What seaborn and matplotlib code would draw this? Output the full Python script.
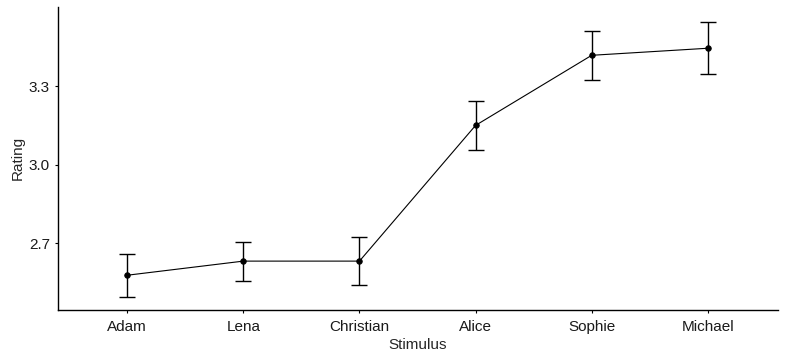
import pandas as pd
import matplotlib.pyplot as plt
import seaborn as sns

# values
stimulus = ["Adam", "Lena", "Christian", "Alice", "Sophie", "Michael"]
rating = [2.577, 2.631, 2.631, 3.150, 3.418, 3.445]
err = [0.083, 0.075, 0.093, 0.094, 0.093, 0.100]
yticks = [2.7, 3.0, 3.3]

df = pd.DataFrame({"Stimulus": stimulus, "Rating": rating, "err": err})

sns.set_style("white")
plt.rcParams["font.family"] = ["Liberation Sans", "DejaVu Sans"]

fig = plt.figure(figsize=(7.86, 3.62), dpi=100)
ax = fig.add_axes([0.0732, 0.1436, 0.916, 0.838])

sns.pointplot(data=df, x="Stimulus", y="Rating", color="black",
              markers="o", markersize=4, linewidth=0.8, errorbar=None, ax=ax)
ax.errorbar(range(len(df)), df["Rating"], yerr=df["err"], fmt="none",
            ecolor="black", elinewidth=1, capsize=5.8, capthick=1)

ax.set_xlim(-0.6, len(df) - 0.4)
ax.set_ylim(2.444, 3.604)
ax.set_yticks(yticks)
ax.set_yticklabels([f"{v:.1f}" for v in yticks])

sns.despine(ax=ax)
for s in ["left", "bottom"]:
    ax.spines[s].set_color("black")
    ax.spines[s].set_linewidth(1)
ax.tick_params(axis="both", which="both", length=2.5, width=0.8, color="black",
               labelsize=11, labelcolor="#1a1a1a", direction="out",
               left=True, bottom=True, pad=3)
ax.tick_params(axis="x", pad=4.5)
ax.set_xlabel("Stimulus", fontsize=11, labelpad=3)
ax.set_ylabel("Rating", fontsize=11, labelpad=3)

plt.savefig("out.png", dpi=100)
